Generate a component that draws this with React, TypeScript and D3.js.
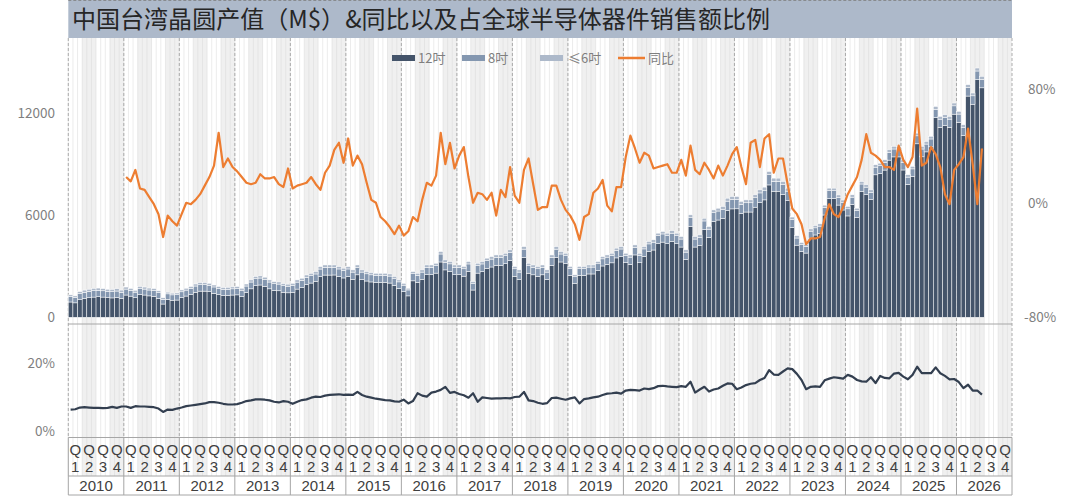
import * as d3 from "d3";

// categories
const years = [2010, 2011, 2012, 2013, 2014, 2015, 2016, 2017, 2018, 2019, 2020, 2021, 2022, 2023, 2024, 2025, 2026];
const quarterLabels = ["1", "2", "3", "4"];
const seriesNames = ["12吋", "8吋", "≤6吋", "同比"];

// wafer output, M$, monthly from 2010-01 to 2026-06
const wafer12 = [
  900, 850, 1040, 1110, 1150, 1190, 1210, 1190, 1160, 1140, 1170, 1110,
  1310, 1245, 1150, 1340, 1310, 1260, 1235, 1120, 780, 1060, 1005, 1015,
  1160, 1250, 1335, 1470, 1540, 1540, 1505, 1415, 1330, 1280, 1290, 1310,
  1320, 1235, 1460, 1675, 1860, 1900, 1825, 1675, 1580, 1560, 1470, 1440,
  1475, 1660, 1750, 1925, 2015, 2110, 2390, 2485, 2485, 2490, 2400, 2315,
  2405, 2230, 2500, 2230, 2135, 2080, 2045, 2050, 2050, 2015, 1880, 1695,
  1510, 1260, 2145, 2050, 2235, 2505, 2505, 2600, 3255, 2790, 2700, 2505,
  2505, 2420, 2690, 1605, 2600, 2690, 2880, 2960, 3060, 3060, 3155, 3340,
  2415, 2230, 3530, 2595, 2500, 2415, 2500, 2230, 3060, 3530, 3255, 3160,
  2465, 2005, 2465, 2465, 2550, 2550, 2740, 3020, 3115, 3205, 3495, 3575,
  3210, 3115, 3670, 3210, 3580, 3865, 3960, 4330, 4425, 4330, 4470, 4330,
  4135, 3395, 5345, 4135, 4225, 5160, 4690, 5630, 5725, 5815, 6285, 6380,
  6385, 6110, 6195, 6195, 6480, 6755, 6910, 7790, 7420, 7420, 7230, 6860,
  5280, 4245, 3875, 3780, 4660, 4845, 4945, 6020, 6990, 6990, 6605, 6315,
  5965, 6640, 5870, 7405, 7225, 6930, 8385, 8465, 8665, 9250, 9440, 9440,
  8670, 7820, 8295, 10210, 9445, 9735, 10030, 11755, 11180, 11280, 11180, 11955,
  11480, 10705, 13020, 12540, 13985, 13505,
];
const wafer8 = [
  330, 320, 350, 360, 370, 380, 380, 370, 365, 370, 375, 360,
  350, 340, 330, 350, 350, 345, 340, 330, 280, 320, 315, 315,
  340, 350, 360, 370, 380, 380, 375, 370, 365, 360, 360, 365,
  370, 360, 380, 400, 410, 410, 405, 400, 395, 395, 390, 390,
  400, 410, 420, 430, 440, 440, 450, 455, 455, 450, 445, 440,
  440, 430, 445, 430, 425, 420, 420, 415, 415, 410, 400, 390,
  380, 350, 420, 415, 425, 440, 440, 445, 470, 450, 445, 440,
  440, 435, 450, 380, 445, 450, 460, 465, 465, 465, 470, 480,
  440, 430, 480, 445, 445, 440, 445, 430, 465, 480, 470, 465,
  400, 380, 400, 400, 405, 405, 410, 420, 425, 430, 440, 445,
  430, 425, 450, 430, 445, 455, 460, 475, 480, 475, 480, 475,
  470, 440, 520, 470, 475, 510, 495, 525, 530, 535, 550, 555,
  550, 540, 545, 545, 555, 565, 570, 600, 585, 585, 580, 565,
  470, 420, 400, 395, 410, 420, 420, 440, 460, 460, 450, 445,
  420, 430, 415, 440, 435, 430, 450, 455, 455, 460, 465, 465,
  450, 430, 440, 470, 460, 460, 465, 490, 480, 480, 480, 490,
  480, 470, 500, 495, 510, 505,
];
const wafer6 = [
  90, 90, 120, 130, 130, 130, 130, 130, 125, 130, 135, 130,
  120, 115, 110, 120, 120, 115, 115, 110, 90, 100, 100, 100,
  110, 110, 115, 120, 120, 120, 120, 115, 115, 110, 110, 115,
  120, 115, 120, 125, 130, 130, 130, 125, 125, 125, 120, 120,
  125, 130, 130, 135, 135, 140, 140, 140, 140, 140, 135, 135,
  135, 130, 135, 130, 130, 130, 125, 125, 125, 125, 120, 115,
  110, 100, 125, 125, 130, 135, 135, 135, 145, 140, 135, 135,
  135, 135, 140, 115, 135, 140, 140, 145, 145, 145, 145, 150,
  135, 130, 150, 140, 135, 135, 135, 130, 145, 150, 145, 145,
  125, 115, 125, 125, 125, 125, 130, 130, 130, 135, 135, 140,
  130, 130, 140, 130, 135, 140, 140, 145, 145, 145, 150, 145,
  145, 135, 165, 145, 150, 160, 155, 165, 165, 170, 175, 175,
  175, 170, 170, 170, 175, 180, 180, 190, 185, 185, 180, 175,
  150, 135, 125, 125, 130, 135, 135, 140, 150, 150, 145, 140,
  135, 140, 135, 145, 140, 140, 145, 150, 150, 150, 155, 155,
  150, 140, 145, 160, 155, 155, 155, 165, 160, 160, 160, 165,
  160, 155, 170, 165, 175, 170,
];
// YoY %, from 2011-01
const yoy = [
  18, 15, 23, 10, 9, 4, -1, -8, -24, -9, -13, -16,
  -8, 0, -1, 2, 6, 12, 18, 26, 49, 25, 31, 25,
  22, 18, 14, 13, 14, 20, 17, 17, 18, 13, 11, 24,
  10, 12, 13, 14, 18, 13, 9, 21, 26, 37, 42, 28,
  45, 26, 33, 27, 14, 2, 0, -10, -13, -17, -22, -16,
  -23, -20, -10, -13, 2, 14, 12, 19, 49, 27, 42, 24,
  33, 39, 18, 0, 7, 6, 2, 7, -9, 9, 4, 25,
  5, 0, 23, 31, 13, -5, -3, -3, 12, 12, 2, -5,
  -9, -15, -26, -10, -8, 7, 10, 16, -2, -6, 11, 11,
  32, 47, 38, 28, 35, 33, 24, 25, 26, 27, 21, 21,
  30, 19, 40, 23, 20, 28, 23, 17, 26, 19, 26, 34,
  39, 25, 13, 42, 44, 25, 45, 48, 21, 31, 31, 13,
  -4, -8, -15, -29, -25, -25, -24, -11, -1, -8, -10, -3,
  6, 12, 18, 30, 48, 35, 33, 30, 25, 25, 23, 40,
  30, 25, 32, 66, 26, 28, 39, 34, 25, 6, -1, 23,
  27, 32, 52, 27, -1, 38,
];
// share of global semiconductor device sales, %
const share = [
  6.3, 6.4, 6.9, 7.0, 6.9, 6.8, 6.8, 6.7, 6.8, 7.1, 6.8, 7.2,
  7.2, 6.8, 7.3, 7.2, 7.2, 7.1, 7.0, 6.6, 5.6, 6.3, 6.2, 6.6,
  6.9, 7.3, 7.5, 7.7, 7.9, 8.1, 8.5, 8.5, 8.3, 8.0, 7.8, 7.8,
  7.9, 8.3, 8.8, 9.0, 9.3, 9.3, 9.2, 9.0, 8.6, 8.4, 8.8, 8.6,
  8.0, 8.6, 9.1, 9.3, 9.8, 10.1, 10.0, 10.4, 10.6, 10.7, 10.8, 10.6,
  10.7, 10.6, 11.5, 10.6, 10.1, 9.8, 9.5, 9.3, 9.1, 9.0, 8.7, 8.6,
  9.2, 8.1, 8.8, 11.1, 10.4, 10.1, 11.3, 11.6, 12.1, 13.0, 11.2, 11.5,
  10.9, 10.5, 9.8, 11.1, 8.6, 9.9, 9.7, 9.5, 9.6, 9.6, 9.7, 9.6,
  10.0, 10.1, 11.5, 9.0, 8.8, 8.3, 8.0, 8.2, 9.7, 9.8, 9.5, 9.2,
  9.6, 9.9, 8.1, 9.4, 9.6, 9.9, 10.1, 10.6, 11.0, 11.1, 11.3, 11.0,
  11.9, 12.1, 12.0, 11.9, 12.5, 12.3, 12.6, 13.2, 13.3, 13.1, 13.0, 12.9,
  13.2, 13.0, 14.5, 11.3, 12.2, 13.0, 11.6, 12.2, 12.5, 13.3, 14.0, 13.9,
  12.3, 12.8, 13.5, 13.9, 14.1, 15.0, 15.6, 17.9, 16.6, 16.5, 17.5, 18.4,
  18.2, 16.8, 15.0, 12.3, 13.0, 13.1, 13.0, 14.9, 15.4, 15.8, 15.6, 15.4,
  16.5, 16.0, 15.0, 14.6, 14.5, 15.8, 14.1, 16.2, 15.6, 15.5, 16.9, 17.1,
  16.0, 15.2, 16.5, 18.9, 17.0, 17.0, 17.0, 18.7, 17.0, 16.2, 15.2, 15.3,
  14.4, 12.6, 13.6, 11.9, 11.9, 10.7,
];
const leftTicks = [0, 6000, 12000];
const rightTicks = [-80, 0, 80];
const shareTicks = [0, 20];

const W = 1080;
const H = 496;
const plotL = 68.3;
const plotR = 1012;
const plotTop = 38;
const split = 324;
const tableTop = 437.5;
const yearRow = 476;
const tableBottom = 495;

const colors = ["#44546a", "#8497b0", "#adb9ca"];
const orange = "#ed7d31";
const font = "'Noto Sans CJK SC', 'Noto Sans', sans-serif";
const tableFont = "'Liberation Sans', Arial, sans-serif";

export default function App() {
  const months = d3.range(years.length * 12);
  const x = d3.scaleBand<number>().domain(months).range([plotL, plotR]).padding(0);
  const bw = x.bandwidth();
  const yL = d3.scaleLinear().domain([0, 12000]).range([317.3, 113.4]);
  const yR = d3.scaleLinear().domain([-80, 80]).range([317, 88.5]);
  const yS = d3.scaleLinear().domain([0, 20]).range([431, 363]);

  const rows = wafer12.map((v, i) => ({ i, w12: v, w8: wafer8[i], w6: wafer6[i] }));
  const stacked = d3.stack<any>().keys(["w12", "w8", "w6"])(rows);

  const yoyLine = d3
    .line<number>()
    .x((_, i) => (x(i + 12) as number) + bw / 2)
    .y((d) => yR(d));
  const shareLine = d3
    .line<number>()
    .x((_, i) => (x(i) as number) + bw / 2)
    .y((d) => yS(d));

  const quarterX = (yi: number, q: number) => x(yi * 12 + q * 3) as number;

  return (
    <svg width={W} height={H} style={{ position: "absolute", left: 0, top: 0, background: "#fff" }} fontFamily={font}>
      {/* quarter shading */}
      {years.map((yr, yi) =>
        [1, 3].map((q) => (
          <rect key={`s${yr}${q}`} x={quarterX(yi, q)} y={plotTop} width={bw * 3} height={yearRow - plotTop} fill="#f0f0f0" />
        ))
      )}
      {/* month lines */}
      {months.map((m) => (
        <line key={`m${m}`} x1={x(m)} x2={x(m)} y1={plotTop} y2={yearRow} stroke="#d9d9d9" strokeWidth={0.5} />
      ))}
      {/* year dashed lines */}
      {years.map((yr, yi) => (
        <line key={`y${yr}`} x1={x(yi * 12)} x2={x(yi * 12)} y1={plotTop} y2={tableTop} stroke="#999999" strokeWidth={0.8} strokeDasharray="3,2" />
      ))}
      <line x1={plotR} x2={plotR} y1={plotTop} y2={tableTop} stroke="#999999" strokeWidth={0.8} strokeDasharray="3,2" />

      {/* title */}
      <rect x={plotL} y={0} width={plotR - plotL} height={plotTop} fill="#adb9ca" />
      <line x1={plotL} x2={plotR} y1={0.5} y2={0.5} stroke="#7f7f7f" strokeDasharray="3,2" strokeWidth={0.8} />
      <text x={72} y={28} fontSize={24} fill="#262626" textLength={698} lengthAdjust="spacingAndGlyphs">
        中国台湾晶圆产值（M$）&amp;同比以及占全球半导体器件销售额比例
      </text>

      {/* legend */}
      <g fontSize={13} fill="#7f7f7f">
        <rect x={392} y={55} width={23} height={6} fill={colors[0]} />
        <text x={418} y={62.5}>{seriesNames[0]}</text>
        <rect x={462} y={55} width={23} height={6} fill={colors[1]} />
        <text x={488} y={62.5}>{seriesNames[1]}</text>
        <rect x={540} y={55} width={23} height={6} fill={colors[2]} />
        <text x={568} y={62.5}>{seriesNames[2]}</text>
        <line x1={618} x2={645} y1={58} y2={58} stroke={orange} strokeWidth={2.5} />
        <text x={648} y={62.5}>{seriesNames[3]}</text>
      </g>

      {/* stacked bars */}
      {stacked.map((layer, li) => (
        <g key={`l${li}`} fill={colors[li]}>
          {layer.map((d, i) => (
            <rect
              key={i}
              x={x(i)}
              y={yL(d[1])}
              width={bw}
              height={Math.max(0, yL(d[0]) - yL(d[1]))}
              stroke="#ffffff"
              strokeWidth={0.5}
            />
          ))}
        </g>
      ))}

      {/* yoy */}
      <path d={yoyLine(yoy) || ""} fill="none" stroke={orange} strokeWidth={2.2} strokeLinejoin="round" />

      {/* panel split */}
      <line x1={plotL} x2={plotR} y1={split} y2={split} stroke="#a6a6a6" strokeWidth={1} />

      {/* share */}
      <path d={shareLine(share) || ""} fill="none" stroke="#333f50" strokeWidth={2.2} strokeLinejoin="round" />

      {/* axes labels */}
      <g fontSize={13.5} fill="#7f7f7f" textAnchor="end">
        {leftTicks.map((t) => (
          <text key={`lt${t}`} x={55} y={yL(t) + 5}>{t}</text>
        ))}
        {shareTicks.map((t) => (
          <text key={`st${t}`} x={55} y={yS(t) + 5}>{`${t}%`}</text>
        ))}
      </g>
      <g fontSize={13.5} fill="#7f7f7f" textAnchor="start">
        {rightTicks.map((t) => (
          <text key={`rt${t}`} x={t < 0 ? 1024 : 1028} y={yR(t) + 5}>{`${t}%`}</text>
        ))}
      </g>

      {/* category table */}
      <line x1={plotL} x2={plotR} y1={tableTop} y2={tableTop} stroke="#a6a6a6" />
      <line x1={plotL} x2={plotR} y1={yearRow} y2={yearRow} stroke="#a6a6a6" />
      <line x1={plotL} x2={plotR} y1={tableBottom} y2={tableBottom} stroke="#a6a6a6" />
      {years.map((yr, yi) => (
        <line key={`yt${yr}`} x1={x(yi * 12)} x2={x(yi * 12)} y1={tableTop} y2={tableBottom} stroke="#a6a6a6" />
      ))}
      <line x1={plotR} x2={plotR} y1={tableTop} y2={tableBottom} stroke="#a6a6a6" />
      <g fontSize={15} fill="#404040" textAnchor="middle" fontFamily={tableFont}>
        {years.map((yr, yi) =>
          quarterLabels.map((q, qi) => {
            const cx = quarterX(yi, qi) + bw * 1.5;
            return (
              <g key={`q${yr}${q}`}>
                <text x={cx} y={455}>Q</text>
                <text x={cx} y={472}>{q}</text>
              </g>
            );
          })
        )}
      </g>
      <g fontSize={15} fill="#404040" textAnchor="middle" fontFamily={tableFont}>
        {years.map((yr, yi) => (
          <text key={`yl${yr}`} x={(x(yi * 12) as number) + bw * 6} y={491}>{yr}</text>
        ))}
      </g>
    </svg>
  );
}
